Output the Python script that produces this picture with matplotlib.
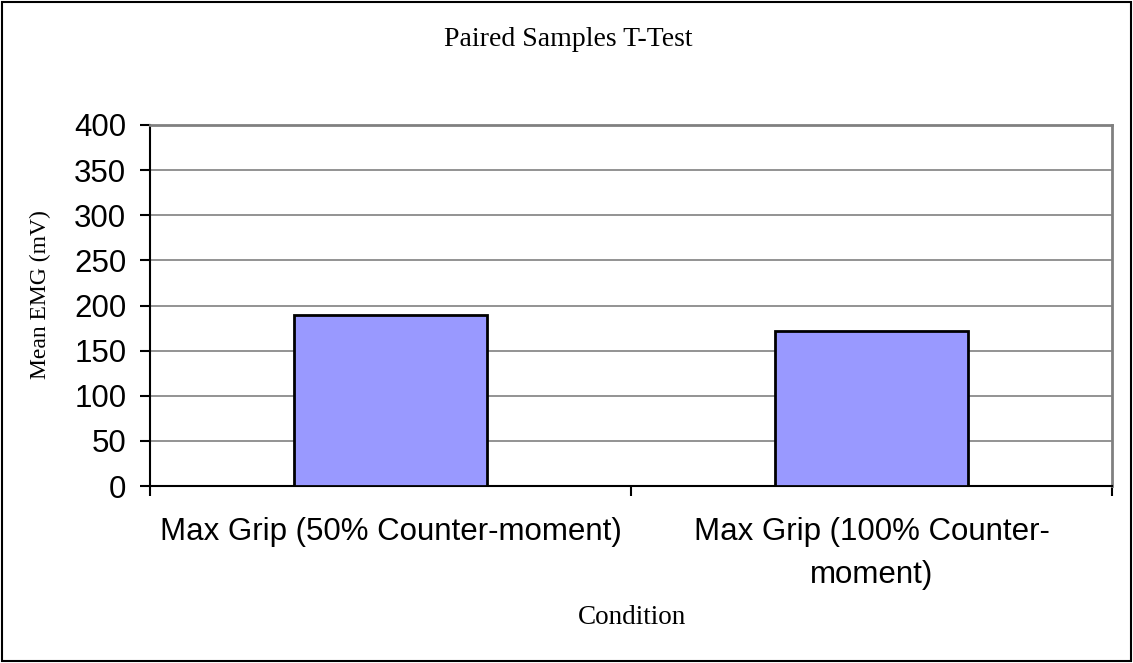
import matplotlib.pyplot as plt
from matplotlib.patches import Rectangle

categories = ["Max Grip (50% Counter-moment)", "Max Grip (100% Counter-\nmoment)"]
values = [190, 172]
yticks = [0, 50, 100, 150, 200, 250, 300, 350, 400]

W, H = 1133, 663
fig = plt.figure(figsize=(W / 100, H / 100), dpi=100)
ax = fig.add_axes([150 / W, 1 - 486 / H, (1112 - 150) / W, (486 - 125) / H])

x = [0, 1]
ax.bar(x, values, width=0.4, color="#9999ff", edgecolor="black", linewidth=2, zorder=3)

ax.set_xlim(-0.5, 1.5)
ax.set_ylim(0, 400)
ax.set_yticks(yticks)
ax.yaxis.grid(True, color="#808080", linewidth=1.2, zorder=0)

ax.set_xticks([-0.5, 0.5, 1.5])
ax.set_xticklabels([])
ax.set_xticks(x, minor=True)
ax.set_xticklabels(categories, minor=True, fontsize=22.5, family="Liberation Sans",
                   linespacing=1.6)
ax.tick_params(axis="x", which="minor", length=0, pad=22)
ax.tick_params(axis="x", which="major", length=7, width=1.5, direction="out")
ax.tick_params(axis="y", length=7, width=1.5, direction="out", labelsize=22.5, pad=10)
for lbl in ax.get_yticklabels():
    lbl.set_family("Liberation Sans")

ax.spines["left"].set_color("black")
ax.spines["left"].set_linewidth(1.5)
ax.spines["bottom"].set_color("black")
ax.spines["bottom"].set_linewidth(1.5)
ax.spines["top"].set_color("#808080")
ax.spines["top"].set_linewidth(2)
ax.spines["right"].set_color("#808080")
ax.spines["right"].set_linewidth(2)

fig.text(40 / W, 1 - 295 / H, "Mean EMG (mV)", family="Liberation Serif",
         fontsize=17, rotation=90, ha="center", va="center")
fig.text(568 / W, 1 - 40 / H, "Paired Samples T-Test", family="Liberation Serif",
         fontsize=20, ha="center", va="center")
fig.text(632 / W, 1 - 618 / H, "Condition", family="Liberation Serif",
         fontsize=19.5, ha="center", va="center")

fig.patches.append(Rectangle((2 / W, 2 / H), 1 - 4 / W, 1 - 4 / H, transform=fig.transFigure,
                             fill=False, edgecolor="black", linewidth=1.5))

fig.savefig("out.png", dpi=100)
